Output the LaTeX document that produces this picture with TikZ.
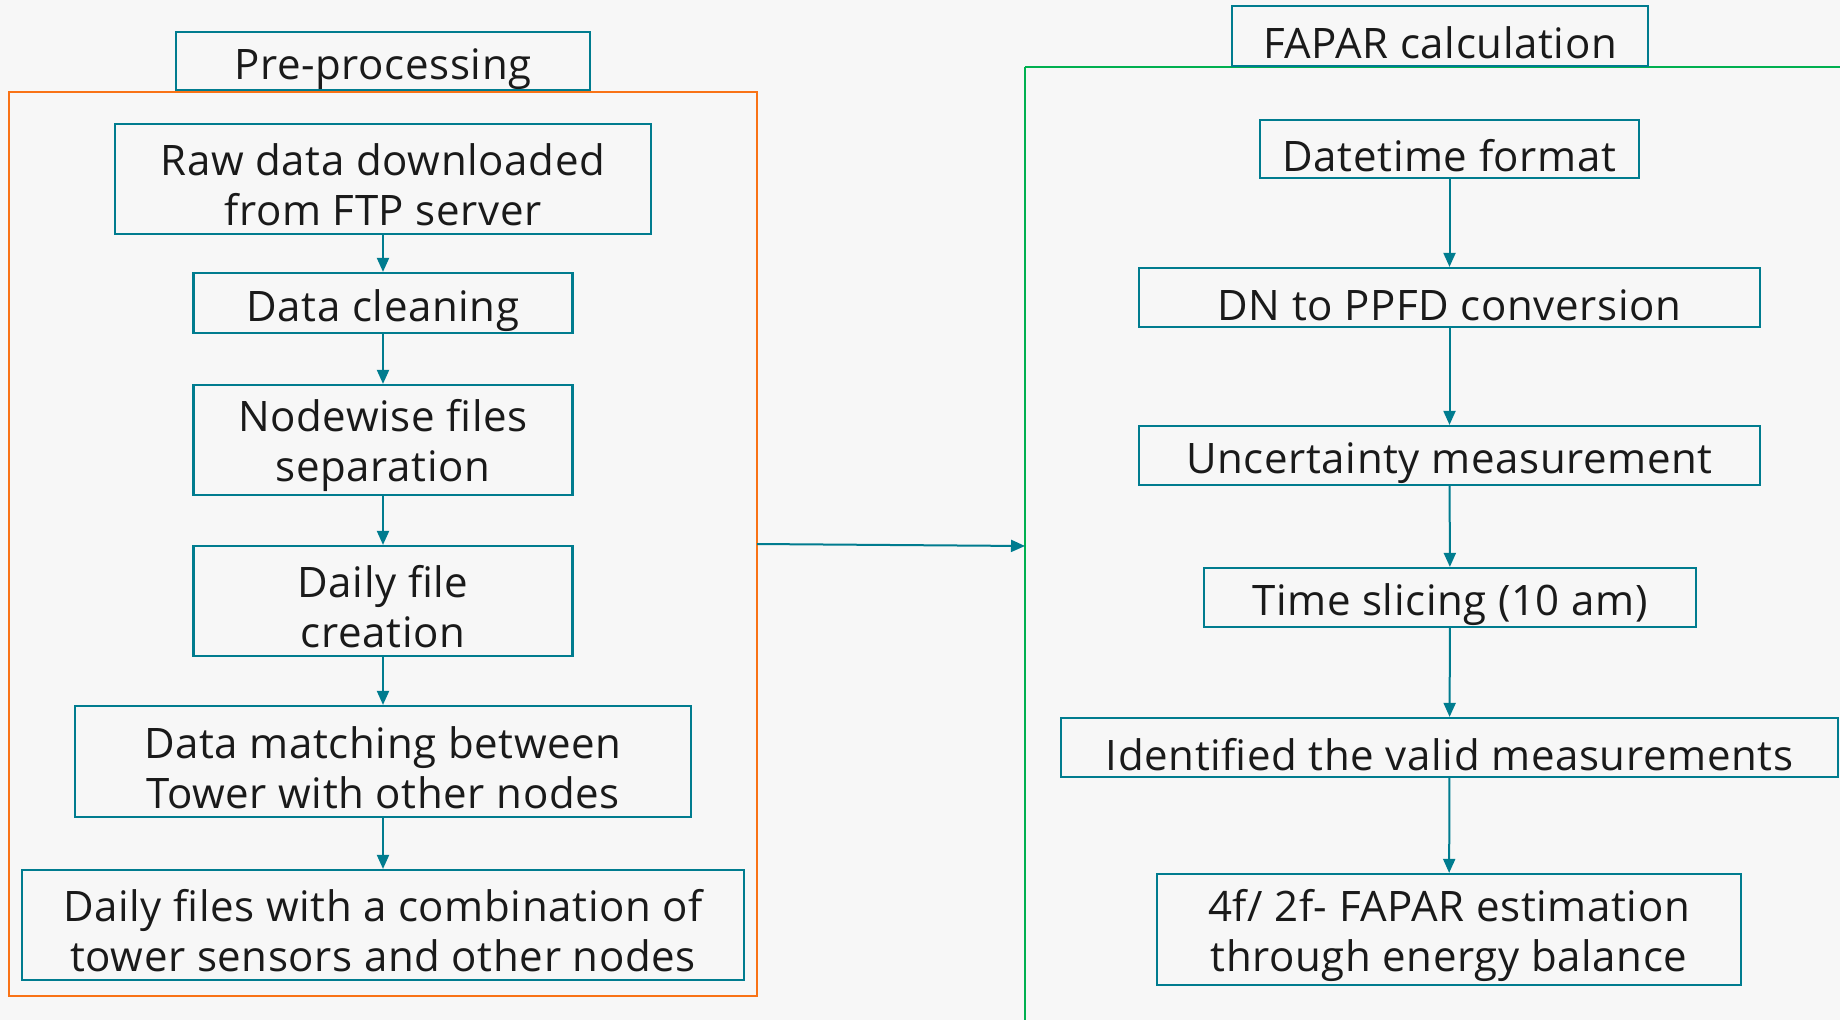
\documentclass[tikz,border=0pt]{standalone}
\usepackage{fontspec}
\setmainfont{Open Sans}[LetterSpace=1.5]
\usetikzlibrary{arrows.meta}
\definecolor{bgcol}{HTML}{F7F7F7}
\definecolor{tealc}{HTML}{007C8F}
\definecolor{orangec}{HTML}{F97316}
\definecolor{greenc}{HTML}{00B050}
\definecolor{inkc}{HTML}{1A1A1A}
\tikzset{
  px/.style={x=1pt,y=-1pt},
  % height of an invisible rule that pushes each label slightly down in its box
  lift/.initial=47pt,
  twoline/.style={lift=94pt},
  stepbox/.style={draw=tealc,line width=2.2pt,fill=bgcol,text=inkc,align=center,
    inner sep=0pt,font=\fontsize{42}{50}\selectfont,
    execute at begin node={\rule{0pt}{\pgfkeysvalueof{/tikz/lift}}}},
  flow/.style={draw=tealc,line width=2pt,-{Triangle[length=14pt,width=12pt]}},
  group/.style={line width=2.5pt}
}
\begin{document}
\begin{tikzpicture}[px]
  \useasboundingbox (0,0) rectangle (1840,1020);
  \fill[bgcol] (0,0) rectangle (1840,1020);
  \clip (0,0) rectangle (1840,1020);

  % group frames
  \draw[group,draw=orangec] (9,92) rectangle (757,996);
  \draw[group,draw=greenc] (1025,67) -- (1860,67);
  \draw[group,draw=greenc] (1025,67) -- (1025,1040);

  % left column: pre-processing
  \node[stepbox,minimum width=414pt,minimum height=58pt] (pre) at (383,61) {Pre-processing};
  \node[stepbox,twoline,minimum width=536pt,minimum height=110pt] (raw) at (383,179) {Raw data downloaded\\from FTP server};
  \node[stepbox,minimum width=379pt,minimum height=60pt] (clean) at (383,303) {Data cleaning};
  \node[stepbox,twoline,minimum width=379pt,minimum height=110pt] (sep) at (383,440) {Nodewise files\\separation};
  \node[stepbox,twoline,minimum width=379pt,minimum height=110pt] (daily) at (383,601) {Daily file\\creation};
  \node[stepbox,twoline,minimum width=616pt,minimum height=111pt] (match) at (383,761.5) {Data matching between\\Tower with other nodes};
  \node[stepbox,twoline,minimum width=722pt,minimum height=110pt] (comb) at (383,925) {Daily files with a combination of\\tower sensors and other nodes};

  \draw[flow] (raw) -- (clean);
  \draw[flow] (clean) -- (sep);
  \draw[flow] (sep) -- (daily);
  \draw[flow] (daily) -- (match);
  \draw[flow] (match) -- (comb);

  % right column: FAPAR calculation
  \node[stepbox,lift=45pt,minimum width=416pt,minimum height=60pt] (fapar) at (1440,36) {FAPAR calculation};
  \node[stepbox,lift=45pt,minimum width=379pt,minimum height=58pt] (dt) at (1449.5,149) {Datetime format};
  \node[stepbox,minimum width=621pt,minimum height=59pt] (dn) at (1449.5,297.5) {DN to PPFD conversion};
  \node[stepbox,minimum width=621pt,minimum height=59pt] (unc) at (1449.5,455.5) {Uncertainty measurement};
  \node[stepbox,minimum width=492pt,minimum height=59pt] (ts) at (1450,597.5) {Time slicing (10 am)};
  \node[stepbox,minimum width=777pt,minimum height=59pt] (valid) at (1449.5,747.5) {Identified the valid measurements};
  \node[stepbox,twoline,minimum width=584pt,minimum height=111pt] (est) at (1449,929.5) {4f/ 2f- FAPAR estimation\\through energy balance};

  \draw[flow] (dt) -- (dn);
  \draw[flow] (dn) -- (unc);
  \draw[flow] (unc) -- (ts);
  \draw[flow] (ts) -- (valid);
  \draw[flow] (valid) -- (est);

  % link between the two stages
  \coordinate (outL) at (757,544);
  \coordinate (inR) at (1025,546);
  \draw[flow] (outL) -- (inR);
\end{tikzpicture}
\end{document}
